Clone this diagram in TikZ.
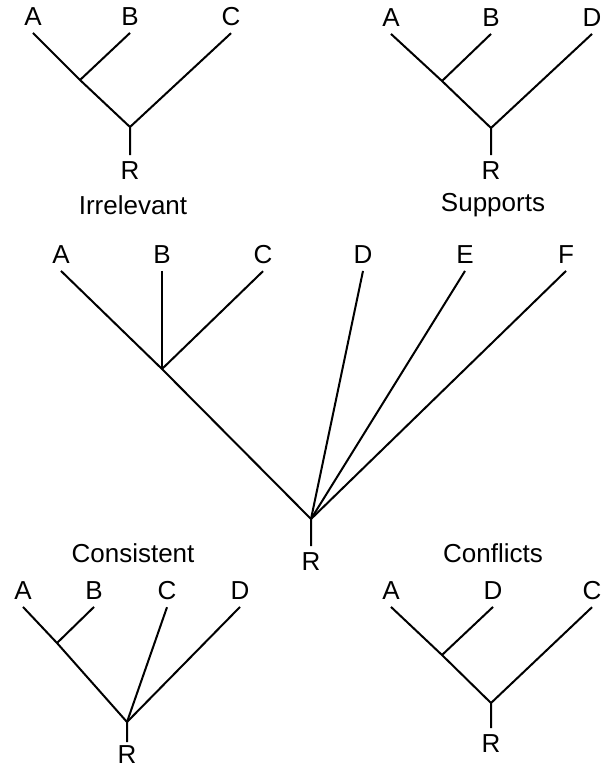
\documentclass[tikz,border=0pt]{standalone}
\usepackage{fontspec}
\setmainfont{Liberation Sans}

\begin{document}
\begin{tikzpicture}[x=1pt, y=-1pt, line width=2pt,
	every node/.style={font=\fontsize{26}{30}\selectfont, inner sep=6pt}]
	\useasboundingbox (0, 0) rectangle (606, 771);

	% 左上: Irrelevant
	\node (irrA) at (33, 17) {A};
	\node (irrB) at (130, 17) {B};
	\node (irrC) at (231, 17) {C};
	\node (irrR) at (130, 171) {R};
	\coordinate (irrJ) at (80, 80);
	\coordinate (irrO) at (130, 127);
	\draw (irrA.south) -- (irrJ) -- (irrO) -- (irrR.north);
	\draw (irrB.south) -- (irrJ);
	\draw (irrC.south) -- (irrO);
	\node (irrT) at (133, 205) {Irrelevant};

	% 右上: Supports
	\node (supA) at (391, 18) {A};
	\node (supB) at (491, 18) {B};
	\node (supD) at (592, 18) {D};
	\node (supR) at (491, 171) {R};
	\coordinate (supJ) at (442, 81);
	\coordinate (supO) at (491, 128);
	\draw (supA.south) -- (supJ) -- (supO) -- (supR.north);
	\draw (supB.south) -- (supJ);
	\draw (supD.south) -- (supO);
	\node (supT) at (493, 205) {Supports};

	% 中间的大树
	\node (midA) at (61, 255) {A};
	\node (midB) at (162, 255) {B};
	\node (midC) at (263, 255) {C};
	\node (midD) at (363, 255) {D};
	\node (midE) at (465, 255) {E};
	\node (midF) at (566, 255) {F};
	\node (midR) at (311, 562) {R};
	\coordinate (midJ) at (162, 369);
	\coordinate (midO) at (311, 519);
	\draw (midA.south) -- (midJ) -- (midO) -- (midR.north);
	\draw (midB.south) -- (midJ);
	\draw (midC.south) -- (midJ);
	\draw (midD.south) -- (midO);
	\draw (midE.south) -- (midO);
	\draw (midF.south) -- (midO);

	% 左下: Consistent
	\node (conT) at (133, 553) {Consistent};
	\node (conA) at (23, 591) {A};
	\node (conB) at (94, 591) {B};
	\node (conC) at (167, 591) {C};
	\node (conD) at (240, 591) {D};
	\node[inner sep=3pt] (conR) at (127, 755) {R};
	\coordinate (conJ) at (57, 643);
	\coordinate (conO) at (127, 722);
	\draw (conA.south) -- (conJ) -- (conO) -- (conR.north);
	\draw (conB.south) -- (conJ);
	\draw (conC.south) -- (conO);
	\draw (conD.south) -- (conO);

	% 右下: Conflicts
	\node (cflT) at (493, 553) {Conflicts};
	\node (cflA) at (391, 591) {A};
	\node (cflD) at (493, 591) {D};
	\node (cflC) at (592, 591) {C};
	\node (cflR) at (491, 744) {R};
	\coordinate (cflJ) at (442, 655);
	\coordinate (cflO) at (491, 703);
	\draw (cflA.south) -- (cflJ) -- (cflO) -- (cflR.north);
	\draw (cflD.south) -- (cflJ);
	\draw (cflC.south) -- (cflO);
\end{tikzpicture}
\end{document}
